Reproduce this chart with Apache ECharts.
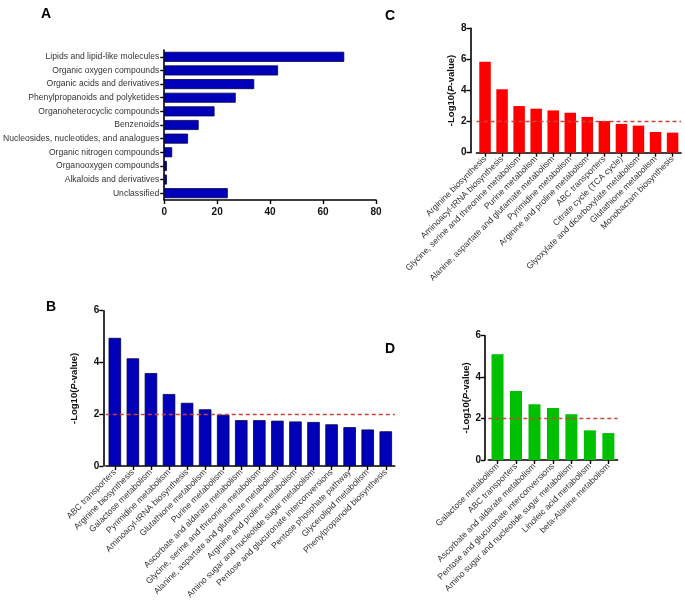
<!DOCTYPE html>
<html>
<head>
<meta charset="utf-8">
<script src="https://cdn.jsdelivr.net/npm/echarts@6/dist/echarts.min.js"></script>
<style>html,body{margin:0;padding:0;background:#fff;}#c{width:685px;height:606px;}</style>
</head>
<body>
<div id="c"></div>
<script>
var catA = ['Lipids and lipid-like molecules','Organic oxygen compounds','Organic acids and derivatives','Phenylpropanoids and polyketides','Organoheterocyclic compounds','Benzenoids','Nucleosides, nucleotides, and analogues','Organic nitrogen compounds','Organooxygen compounds','Alkaloids and derivatives','Unclassified'];
var valA = [68,43,34,27,19,13,9,3,1,1,24];
var ticksA = [0,20,40,60,80];

var catB = ['ABC transporters','Arginine biosynthesis','Galactose metabolism','Pyrimidine metabolism','Aminoacyl-tRNA biosynthesis','Glutathione metabolism','Purine metabolism','Ascorbate and aldarate metabolism','Glycine, serine and threonine metabolism','Alanine, aspartate and glutamate metabolism','Arginine and proline metabolism','Amino sugar and nucleotide sugar metabolism','Pentose and glucuronate interconversions','Pentose phosphate pathway','Glycerolipid metabolism','Phenylpropanoid biosynthesis'];
var valB = [4.95,4.16,3.59,2.78,2.44,2.19,1.98,1.77,1.77,1.75,1.72,1.70,1.61,1.50,1.41,1.34];

var catC = ['Arginine biosynthesis','Aminoacyl-tRNA biosynthesis','Glycine, serine and threonine metabolism','Purine metabolism','Alanine, aspartate and glutamate metabolism','Pyrimidine metabolism','Arginine and proline metabolism','ABC transporters','Citrate cycle (TCA cycle)','Glyoxylate and dicarboxylate metabolism','Glutathione metabolism','Monobactam biosynthesis'];
var valC = [5.85,4.08,3.00,2.83,2.72,2.57,2.30,2.04,1.85,1.74,1.33,1.29];

var catD = ['Galactose metabolism','ABC transporters','Ascorbate and aldarate metabolism','Pentose and glucuronate interconversions','Amino sugar and nucleotide sugar metabolism','Linoleic acid metabolism','beta-Alanine metabolism'];
var valD = [5.10,3.33,2.69,2.51,2.21,1.43,1.30];

var threshold = 2;
var yName = '-Log10({i|P}-value)';

var FONT = 'Liberation Sans, Arial, sans-serif';
var axisLine = {show:true, lineStyle:{color:'#000', width:1.6}};
var axisTick = {show:true, inside:false, length:4, lineStyle:{color:'#000', width:1.4}};
var numLabel = {color:'#111', fontWeight:'bold', fontSize:10, fontFamily:FONT};
var catLabel = {color:'#333', fontSize:8.6, fontFamily:FONT};
var letterStyle = {fontSize:14, fontWeight:'bold', color:'#000', fontFamily:FONT};

function valueY(gridIndex, max, offset, nameGap){
  return {type:'value', gridIndex:gridIndex, min:0, max:max, interval:2, offset:offset,
    axisLine:axisLine, axisTick:axisTick, splitLine:{show:false},
    axisLabel:Object.assign({margin:4}, numLabel),
    name:yName, nameLocation:'middle', nameGap:nameGap,
    nameTextStyle:{fontWeight:'bold', fontSize:9.5, color:'#111', fontFamily:FONT,
      rich:{i:{fontStyle:'italic', fontWeight:'bold', fontSize:9.5, color:'#111', fontFamily:FONT}}}};
}
function catX(gridIndex, data){
  return {type:'category', gridIndex:gridIndex, data:data, boundaryGap:true,
    axisLine:axisLine, axisTick:Object.assign({alignWithLabel:true}, axisTick),
    axisLabel:Object.assign({rotate:45, interval:0, margin:5}, catLabel)};
}
function thresholdLine(){
  return {silent:true, symbol:['none','none'], label:{show:false},
    lineStyle:{type:[4,3], color:'#c8463c', width:1.3},
    data:[{yAxis:threshold}]};
}

var option = {
  animation:false,
  backgroundColor:'#fff',
  textStyle:{fontFamily:FONT},
  title:[
    {text:'A', left:36, top:2, textStyle:letterStyle},
    {text:'C', left:380, top:4, textStyle:letterStyle},
    {text:'B', left:41, top:295, textStyle:letterStyle},
    {text:'D', left:380, top:337, textStyle:letterStyle}
  ],
  grid:[
    {left:163, top:50, width:213, height:150},
    {left:476.5, top:28.3, width:204.6, height:124.4},
    {left:105.8, top:310.7, width:289, height:155.3},
    {left:488.3, top:335.7, width:129.3, height:124.3}
  ],
  xAxis:[
    {type:'value', gridIndex:0, min:0, max:80, interval:20,
      axisLine:axisLine, axisTick:axisTick, splitLine:{show:false},
      axisLabel:Object.assign({margin:7}, numLabel)},
    catX(1, catC),
    catX(2, catB),
    catX(3, catD)
  ],
  yAxis:[
    {type:'category', gridIndex:0, data:catA, inverse:true,
      axisLine:axisLine, axisTick:Object.assign({alignWithLabel:true}, axisTick),
      axisLabel:Object.assign({margin:5, interval:0}, catLabel)},
    valueY(1, 8, 6, 14),
    valueY(2, 6, 2.5, 24),
    valueY(3, 6, 3.3, 10)
  ],
  series:[
    {type:'bar', xAxisIndex:0, yAxisIndex:0, data:valA, barWidth:10,
      itemStyle:{color:'#0000b8', borderColor:'#00004a', borderWidth:0.8}},
    {type:'bar', xAxisIndex:1, yAxisIndex:1, data:valC, barWidth:11.5,
      itemStyle:{color:'#ff0000'}, markLine:thresholdLine()},
    {type:'bar', xAxisIndex:2, yAxisIndex:2, data:valB, barWidth:12.5,
      itemStyle:{color:'#0000b8', borderColor:'#00004a', borderWidth:0.8}, markLine:thresholdLine()},
    {type:'bar', xAxisIndex:3, yAxisIndex:3, data:valD, barWidth:12,
      itemStyle:{color:'#00c000'}, markLine:thresholdLine()}
  ]
};
var chart = echarts.init(document.getElementById('c'), null, {renderer:'canvas'});
chart.setOption(option);
</script>
</body>
</html>
